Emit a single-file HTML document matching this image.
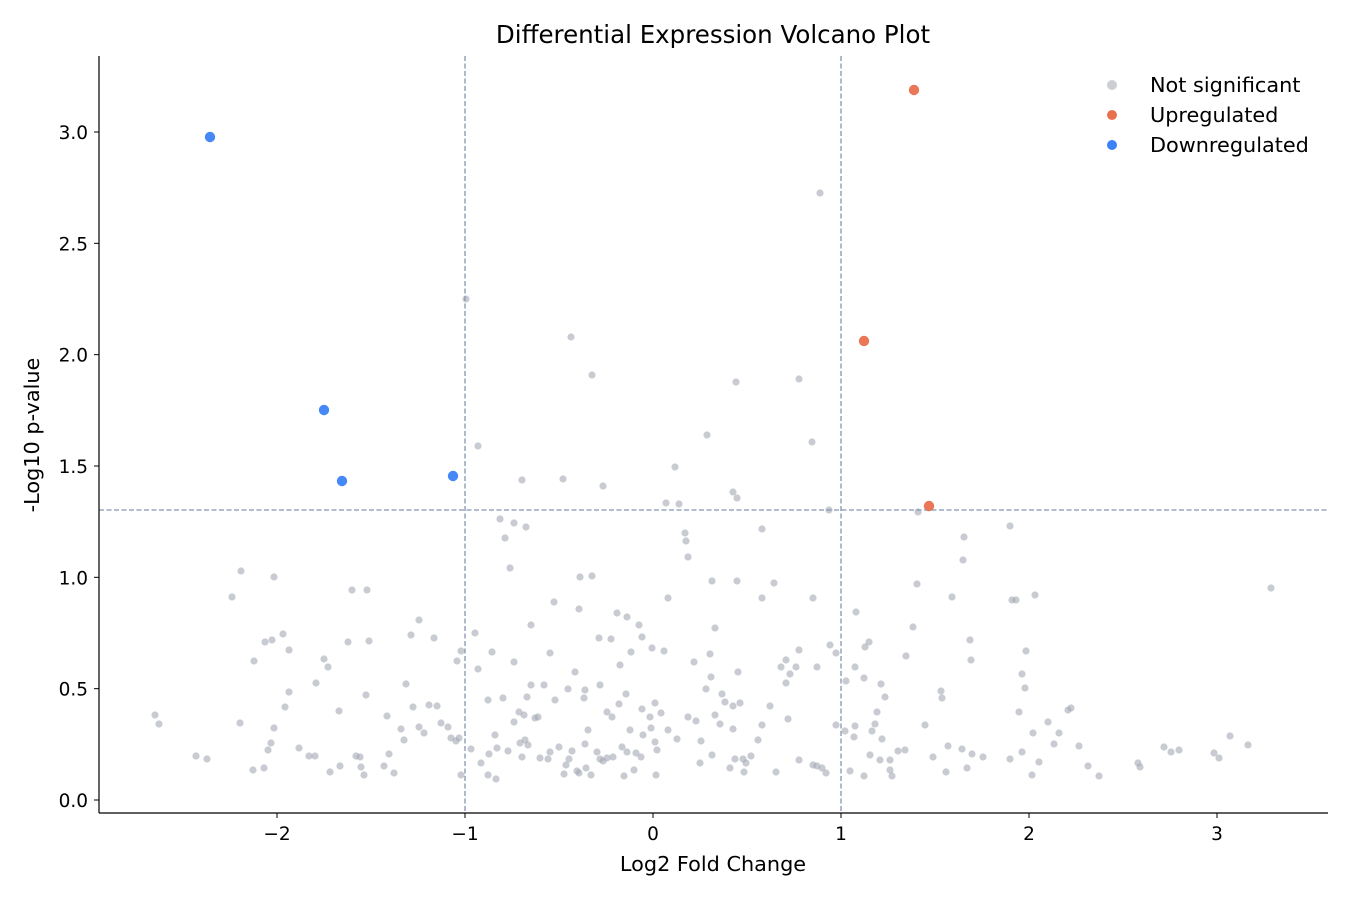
<!DOCTYPE html>
<html><head><meta charset="utf-8"><style>
html,body{margin:0;padding:0;background:#fff;}
svg{display:block;font-family:"DejaVu Sans","Liberation Sans",sans-serif;}
</style></head><body>
<svg id="s" width="1350" height="900" xmlns="http://www.w3.org/2000/svg">
<rect width="1350" height="900" fill="#fff"/>
<g id="pts"></g>
<line x1="465" y1="56" x2="465" y2="813" stroke="#8496b0" stroke-width="1.3" stroke-dasharray="5,2.5"/>
<line x1="841" y1="56" x2="841" y2="813" stroke="#8496b0" stroke-width="1.3" stroke-dasharray="5,2.5"/>
<line x1="99" y1="510" x2="1328" y2="510" stroke="#8496b0" stroke-width="1.3" stroke-dasharray="5,2.5"/>
<g id="col"></g>
<line x1="99" y1="56" x2="99" y2="813" stroke="#000" stroke-width="1.2"/>
<line x1="99" y1="813" x2="1328" y2="813" stroke="#000" stroke-width="1.2"/>
<g id="ticks" font-size="18.5" fill="#000"></g>
<text x="713" y="43" font-size="24.5" text-anchor="middle">Differential Expression Volcano Plot</text>
<text x="713" y="871" font-size="20.8" text-anchor="middle">Log2 Fold Change</text>
<text x="39" y="435" font-size="20.8" text-anchor="middle" transform="rotate(-90 39 435)">-Log10 p-value</text>
<g font-size="20.8">
<circle cx="1112" cy="85" r="5" fill="#b6b9c2" opacity="0.7"/><text x="1150" y="92">Not significant</text>
<circle cx="1112" cy="115" r="5" fill="#e8704f"/><text x="1150" y="122">Upregulated</text>
<circle cx="1112" cy="145" r="5" fill="#3b82f6"/><text x="1150" y="152">Downregulated</text>
</g>
</svg>
<script>
var g=[820,193,466,299,571,337,592,375,736,382,799,379,707,435,812,442,478,446,675,467,522,480,563,479,603,486,733,492,737,498,666,503,679,504,829,510,918,512,500,519,514,523,526,527,505,538,762,529,685,533,686,541,964,537,1010,526,1271,588,241,571,274,577,232,597,352,590,367,590,510,568,688,557,963,560,952,597,712,581,580,577,1035,595,1016,600,554,602,419,620,813,598,579,609,617,613,592,576,762,598,774,583,737,581,639,625,642,637,715,628,652,648,664,651,611,639,599,638,531,625,434,638,411,635,475,633,492,652,348,642,369,641,514,662,328,667,324,659,457,661,550,653,366,695,289,650,254,661,316,683,265,642,283,634,272,640,406,684,503,698,568,689,584,698,620,665,600,685,585,690,527,697,544,685,575,672,555,700,514,722,535,718,538,717,519,712,488,700,478,669,461,651,531,685,627,617,668,598,631,652,694,662,738,672,710,654,799,650,817,667,781,667,830,645,864,678,865,647,913,627,925,725,786,660,856,612,869,642,906,656,970,640,917,584,971,660,962,749,885,697,881,684,1012,600,1026,651,1022,674,1025,688,1019,712,1059,733,1068,710,1079,746,1054,744,1033,733,1010,759,1022,752,1039,762,1032,775,1071,708,941,691,890,760,890,770,880,760,875,724,882,739,898,751,892,776,905,750,942,698,948,746,946,772,967,768,983,757,1048,722,933,757,972,754,855,726,854,737,845,731,850,771,864,776,870,755,872,731,877,712,846,681,836,653,855,667,836,725,813,765,817,766,822,768,826,773,799,760,776,772,744,772,758,740,751,756,746,763,735,759,770,706,786,683,790,674,796,667,788,719,762,725,725,702,733,706,740,703,722,694,711,677,706,689,715,715,720,724,733,729,701,741,700,763,712,755,730,768,743,759,688,717,696,721,677,739,668,730,655,703,661,713,650,717,655,742,657,750,656,775,641,757,636,753,634,770,622,747,627,752,624,776,613,757,607,758,603,761,600,759,591,775,586,768,577,771,566,765,564,774,572,751,579,773,585,744,588,730,597,752,607,712,612,717,619,704,626,694,642,709,630,730,643,735,651,728,548,759,559,747,569,759,550,752,540,758,525,740,522,757,520,743,528,745,495,735,489,754,497,748,508,751,524,715,456,741,459,738,448,727,437,706,441,723,471,749,481,763,488,775,496,779,461,775,451,738,429,705,424,733,419,727,404,740,401,729,387,716,389,754,384,766,394,773,413,707,364,775,360,757,361,767,356,756,340,766,339,711,330,772,315,756,309,756,299,748,268,750,271,743,289,692,285,707,274,728,240,723,155,715,159,724,196,756,207,759,253,770,264,768,1138,763,1140,767,1088,766,1099,776,1164,747,1171,752,1179,750,1230,736,1214,753,1219,758,1248,745];
var h='';for(var i=0;i<g.length;i+=2)h+='<circle cx="'+g[i]+'" cy="'+g[i+1]+'" r="3.6" fill="#a4a8b4" fill-opacity="0.6"/>';
document.getElementById('pts').innerHTML=h;
var c='';[[914,90,'#e8704f'],[864,341,'#e8704f'],[929,506,'#e8704f'],[210,137,'#3b82f6'],[324,410,'#3b82f6'],[342,481,'#3b82f6'],[453,476,'#3b82f6']].forEach(function(p){c+='<circle cx="'+p[0]+'" cy="'+p[1]+'" r="5.2" fill="'+p[2]+'" fill-opacity="0.95"/>';});
document.getElementById('col').innerHTML=c;
var t='';[-2,-1,0,1,2,3].forEach(function(v){var x=653+188*v;t+='<line x1="'+x+'" y1="813" x2="'+x+'" y2="818" stroke="#000"/><text x="'+x+'" y="840" text-anchor="middle">'+(v<0?'\u2212'+(-v):v)+'</text>';});
for(var k=0;k<=6;k++){var v=k*0.5,y=800-222.67*v;t+='<line x1="94" y1="'+y+'" x2="99" y2="'+y+'" stroke="#000"/><text x="88" y="'+(y+7)+'" text-anchor="end">'+v.toFixed(1)+'</text>';}
document.getElementById('ticks').innerHTML=t;
</script>
</body></html>
